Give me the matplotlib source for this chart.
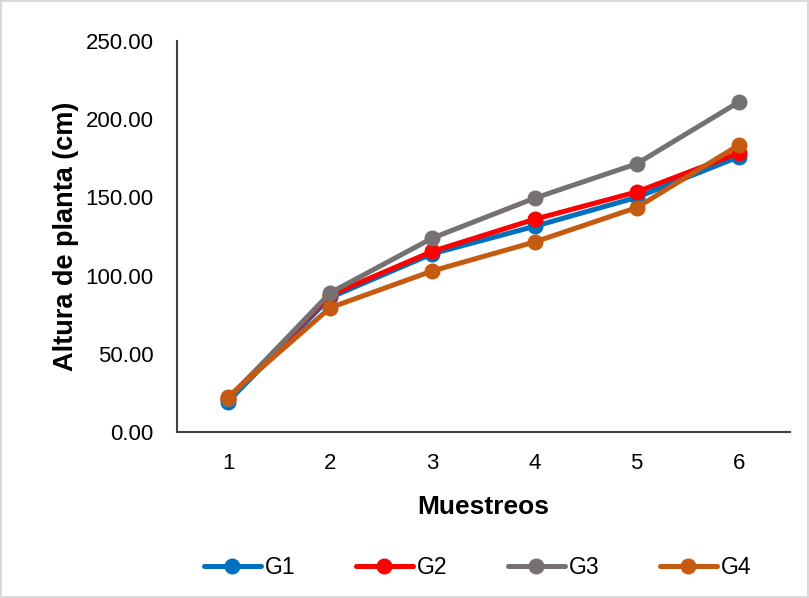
import numpy as np
import matplotlib.pyplot as plt

plt.rcParams['font.family'] = ['Liberation Sans', 'DejaVu Sans']

# Muestreos y altura de planta (cm) por grupo
muestreos = [1, 2, 3, 4, 5, 6]
g1 = [19.5, 86.0, 114.0, 131.5, 150.0, 176.0]
g2 = [21.5, 87.5, 115.5, 136.0, 153.5, 178.5]
g3 = [21.0, 89.0, 124.0, 149.5, 171.5, 211.0]
g4 = [22.5, 79.5, 103.0, 121.5, 143.5, 183.5]

series = [("G1", g1, "#0070C0"), ("G2", g2, "#FF0000"),
          ("G3", g3, "#767171"), ("G4", g4, "#C55A11")]

fig = plt.figure(figsize=(8.09, 5.98), dpi=100)
fig.patch.set_edgecolor("#D9D9D9")
fig.patch.set_linewidth(1.5)
ax = fig.add_axes([177 / 809, 1 - 432 / 598, 613 / 809, 391 / 598])

for name, vals, col in series:
    ax.plot(muestreos, vals, color=col, lw=3.6, marker="o", ms=10.5,
            solid_capstyle="round", label=name)

ax.set_xlim(0.5, 6.5)
ax.set_ylim(0, 250)
ax.set_yticks(np.arange(0, 251, 50))
ax.set_yticklabels([f"{v:.2f}" for v in np.arange(0, 251, 50)])
ax.set_xticks(muestreos)
ax.tick_params(length=0, labelsize=16)
ax.tick_params(axis="y", pad=17)
ax.tick_params(axis="x", pad=15)
for s in ["top", "right"]:
    ax.spines[s].set_visible(False)
for s in ["left", "bottom"]:
    ax.spines[s].set_color("#404040")
    ax.spines[s].set_linewidth(1.5)

ax.set_xlabel("Muestreos", fontsize=19, fontweight="bold")
ax.set_ylabel("Altura de planta (cm)", fontsize=19.5, fontweight="bold")
ax.xaxis.set_label_coords(0.5, -0.192, transform=ax.transAxes)
ax.yaxis.set_label_coords(-0.181, 0.5, transform=ax.transAxes)
ax.xaxis.label.set_va("center")
ax.yaxis.label.set_va("center")

ax.legend(loc="center", bbox_to_anchor=(0.49, -0.347), ncol=4, frameon=False,
          fontsize=16.5, handlelength=2.5, columnspacing=2.65, handletextpad=0.15,
          borderpad=0)

fig.savefig("out.png", dpi=100)
